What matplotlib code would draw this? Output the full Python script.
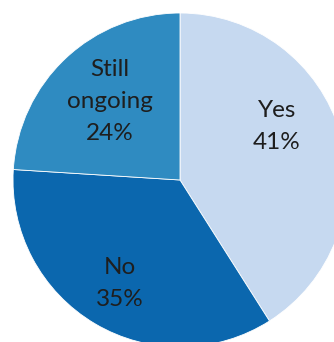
import matplotlib.pyplot as plt

labels = ["Yes", "No", "Still\nongoing"]
shares = [41, 35, 24]
colors = ["#c6d9f0", "#0b67ae", "#2f8bc1"]

fig = plt.figure(figsize=(3.34, 3.42), dpi=100)
ax = fig.add_axes([0, 0, 1, 1])

# pie centre sits left of the figure middle, right and bottom edges run off the canvas
r_px = 167
cx, cy = 180, 180

texts = [f"{lab}\n{val}%" for lab, val in zip(labels, shares)]
wedges, label_texts = ax.pie(
    shares,
    labels=texts,
    colors=colors,
    startangle=90,
    counterclock=False,
    radius=1.0,
    labeldistance=0.68,
    wedgeprops=dict(edgecolor="white", linewidth=0.6),
    textprops=dict(fontsize=17.5, family="Lato", color="#1e1e1e",
                   ha="center", va="center", linespacing=1.65),
)

# best-fit label spots inside each slice (fraction of radius)
label_spots = [(0.58, 0.32), (-0.36, -0.62), (-0.42, 0.47)]
for txt, (x, y) in zip(label_texts, label_spots):
    txt.set_position((x, y))

ax.set_xlim(-cx / r_px, (334 - cx) / r_px)
ax.set_ylim(-(342 - cy) / r_px, cy / r_px)
ax.set_aspect("equal")
ax.axis("off")

fig.savefig("out.png", dpi=100)
